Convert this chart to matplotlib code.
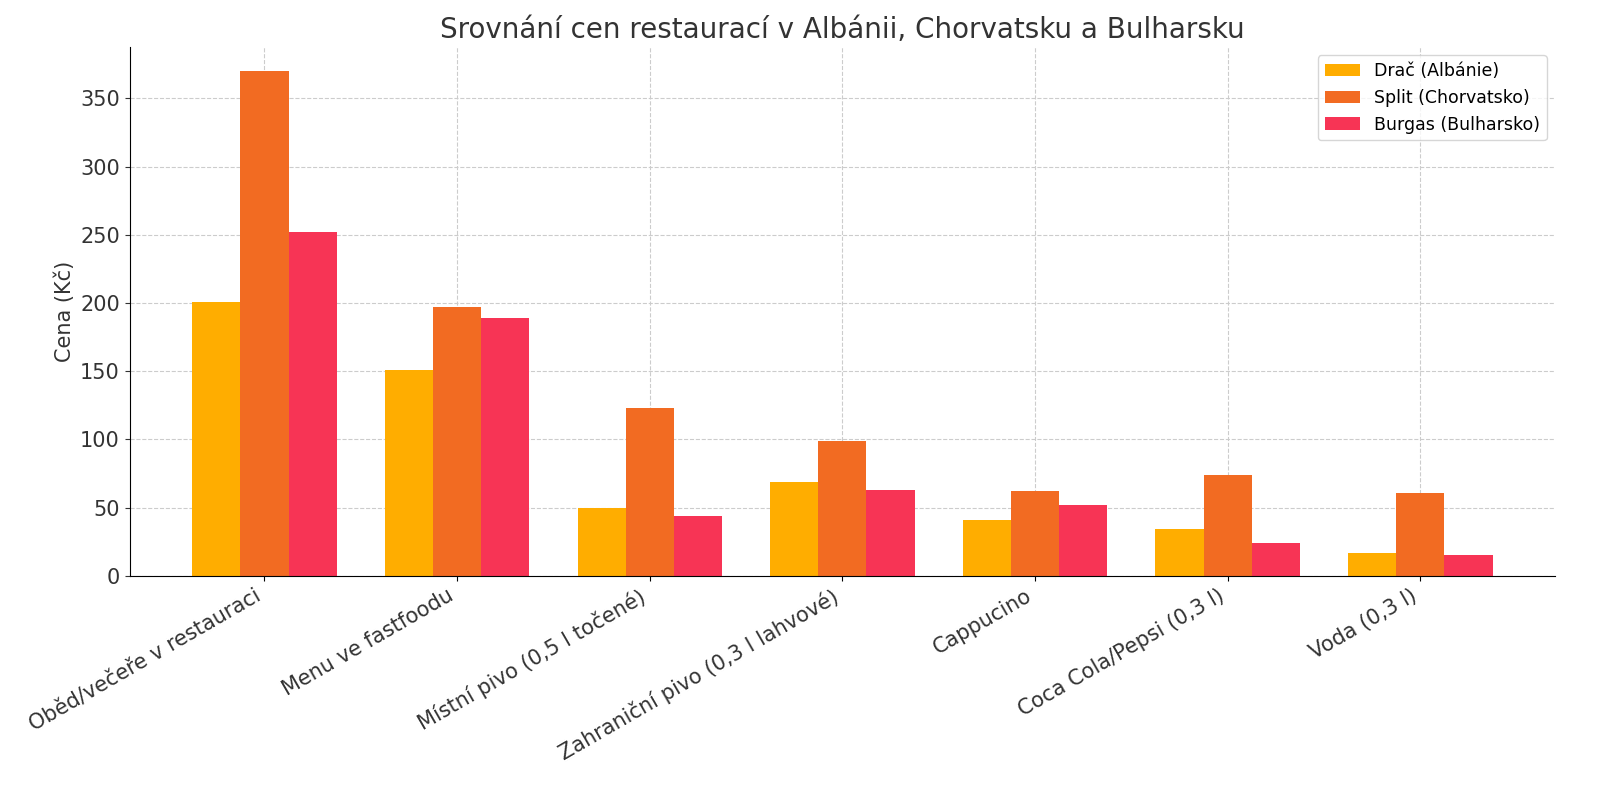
import numpy as np
import matplotlib
matplotlib.use('Agg')
import matplotlib.pyplot as plt

categories = ['Oběd/večeře v restauraci', 'Menu ve fastfoodu', 'Místní pivo (0,5 l točené)',
              'Zahraniční pivo (0,3 l lahvové)', 'Cappucino', 'Coca Cola/Pepsi (0,3 l)', 'Voda (0,3 l)']
drac = [201, 151, 50, 69, 41, 34, 17]
split = [370, 197, 123, 99, 62, 74, 61]
burgas = [252, 189, 44, 63, 52, 24, 15]
series = [('Drač (Albánie)', drac, '#FFAD00'),
          ('Split (Chorvatsko)', split, '#F26B22'),
          ('Burgas (Bulharsko)', burgas, '#F73455')]

plt.rcParams['font.family'] = 'DejaVu Sans'
fig = plt.figure(figsize=(16, 8.02), dpi=100)
ax = fig.add_axes([0.081, 0.282, 0.891, 0.66])

x = np.arange(len(categories))
width = 0.25
for i, (label, vals, color) in enumerate(series):
    ax.bar(x + (i - 1) * width, vals, width, label=label, color=color)

ax.set_title('Srovnání cen restaurací v Albánii, Chorvatsku a Bulharsku', fontsize=20, color='#333333')
ax.set_ylabel('Cena (Kč)', fontsize=15, color='#333333')
ax.set_xticks(x)
ax.set_xticklabels(categories, rotation=30, ha='right', fontsize=15, color='#333333')
ax.tick_params(axis='y', labelsize=15, colors='#333333')
ax.set_xlim(-0.7, 6.7)
ax.set_ylim(0, 388)
ax.grid(True, linestyle='--', color='#cccccc', linewidth=0.8)
ax.set_axisbelow(True)
for s in ['top', 'right']:
    ax.spines[s].set_visible(False)
ax.legend(loc='upper right', fontsize=12.5)

fig.savefig('out.png', dpi=100)
